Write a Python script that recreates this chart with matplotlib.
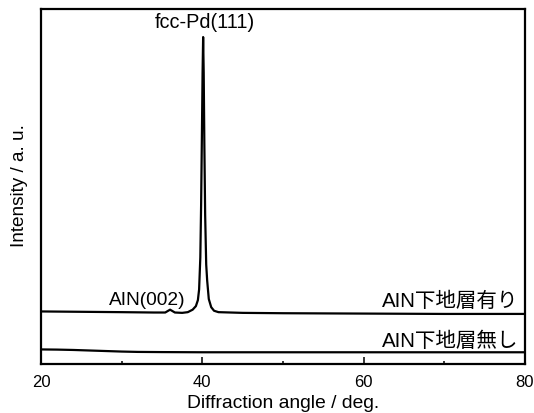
import matplotlib
matplotlib.use("Agg")
import matplotlib.pyplot as plt
from matplotlib.ticker import MultipleLocator

plt.rcParams['font.family'] = ['Liberation Sans', 'Noto Sans CJK JP', 'DejaVu Sans']

# AlN underlayer present (2theta, intensity a.u.)
with_aln_x = [20, 25, 30, 34, 35.4, 35.7, 36.0, 36.3, 36.6, 37.5, 38.2, 38.8, 39.2,
              39.45, 39.6, 39.75, 39.85, 39.95, 40.03, 40.1, 40.17, 40.25, 40.35,
              40.48, 40.6, 40.8, 41.1, 41.45, 42.0, 45, 50, 60, 70, 80]
with_aln_y = [14.8, 14.7, 14.6, 14.5, 14.5, 14.9, 15.3, 14.9, 14.5, 14.4, 14.6, 15.3, 16.3,
              18.0, 21.0, 30.0, 45.0, 65.0, 82.0, 92.1, 82.0, 62.0, 42.0,
              28.0, 23.5, 18.3, 16.0, 15.0, 14.6, 14.4, 14.3, 14.2, 14.1, 14.1]

# AlN underlayer absent
no_aln_x = [20, 22, 24, 26, 28, 30, 32, 35, 40, 50, 60, 70, 80]
no_aln_y = [4.1, 4.05, 3.95, 3.8, 3.65, 3.5, 3.4, 3.35, 3.3, 3.3, 3.3, 3.3, 3.3]

fig = plt.figure(figsize=(5.34, 4.14), dpi=100)
ax = fig.add_axes([0.0768, 0.1184, 0.9063, 0.8574])

ax.plot(with_aln_x, with_aln_y, color='black', lw=1.6)
ax.plot(no_aln_x, no_aln_y, color='black', lw=1.6)

ax.set_xlim(20, 80)
ax.set_ylim(0, 100)
ax.set_yticks([])
ax.xaxis.set_major_locator(MultipleLocator(20))
ax.xaxis.set_minor_locator(MultipleLocator(10))
ax.tick_params(axis='x', which='major', direction='in', length=5, width=1.1,
               labelsize=12, pad=7.5)
ax.tick_params(axis='x', which='minor', direction='in', length=2.5, width=1.1)
for s in ax.spines.values():
    s.set_linewidth(1.6)

ax.text(40.27, 94.8, 'fcc-Pd(111)', ha='center', va='baseline', fontsize=14.3)
ax.text(33.2, 16.8, 'AIN(002)', ha='center', va='baseline', fontsize=13.8)
ax.text(79.2, 16.3, 'AIN下地層有り', ha='right', va='baseline', fontsize=14.8)
ax.text(79.2, 5.0, 'AIN下地層無し', ha='right', va='baseline', fontsize=14.8)

fig.text(283 / 534, 1 - 404 / 414, 'Diffraction angle / deg.', ha='center', va='center',
         fontsize=13.9)
fig.text(20 / 534, 1 - 186 / 414, 'Intensity / a. u.', ha='center', va='center',
         rotation=90, fontsize=13.7)

fig.savefig('out.png', dpi=100)
